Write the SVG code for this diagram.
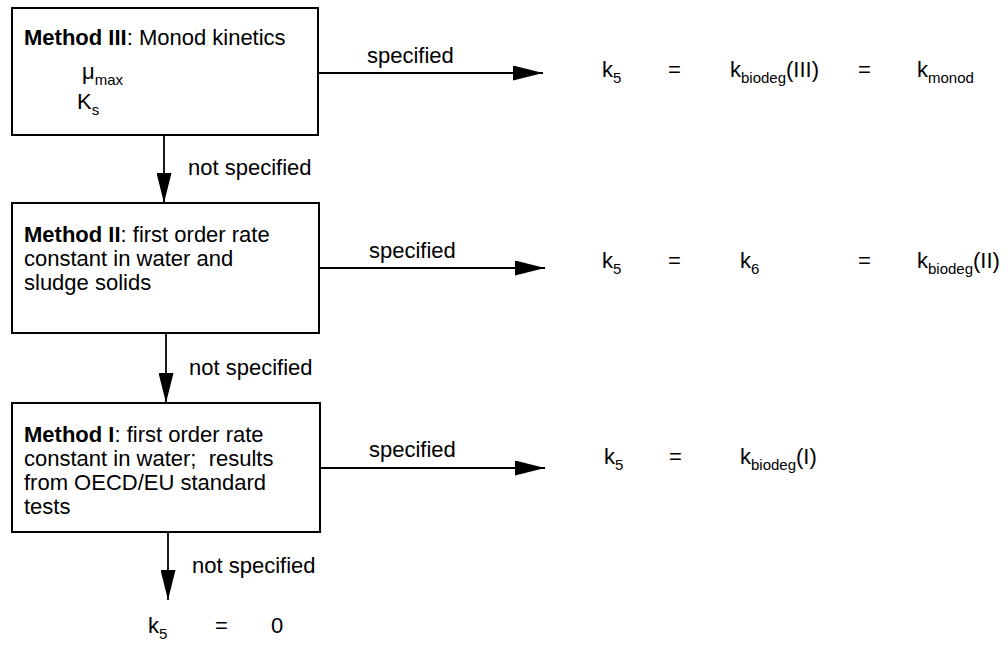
<svg xmlns="http://www.w3.org/2000/svg" width="1008" height="649" viewBox="0 0 1008 649">
  <style>
    text { font-family: "Liberation Sans", Arial, sans-serif; font-size: 22px; fill: #000; }
    .b { font-weight: bold; }
    .sub { font-size: 15px; }
    .box { fill: #fff; stroke: #000; stroke-width: 2; }
    .line { stroke: #000; stroke-width: 1.8; fill: none; }
  </style>
  <defs>
    <marker id="arrow" viewBox="0 0 30 15" refX="30" refY="7.5" markerWidth="30" markerHeight="15" markerUnits="userSpaceOnUse" orient="auto">
      <path d="M0,0 L30,7.5 L0,15 Z" fill="#000"/>
    </marker>
    <marker id="arrowDown" viewBox="0 0 30 15" refX="30" refY="7.5" markerWidth="30" markerHeight="15" markerUnits="userSpaceOnUse" orient="auto">
      <path d="M0,0 L30,7.5 L0,15 Z" fill="#000"/>
    </marker>
  </defs>

  <rect width="1008" height="649" fill="#fff"/>

  <g id="connectors">
    <line class="line" x1="318" y1="73" x2="543" y2="73" marker-end="url(#arrow)"/>
    <line class="line" x1="319" y1="268" x2="545" y2="268" marker-end="url(#arrow)"/>
    <line class="line" x1="320" y1="468" x2="545" y2="468" marker-end="url(#arrow)"/>
    <line class="line" x1="164" y1="135" x2="164" y2="203" marker-end="url(#arrowDown)"/>
    <line class="line" x1="166" y1="333" x2="166" y2="403" marker-end="url(#arrowDown)"/>
    <line class="line" x1="168" y1="532" x2="168" y2="600" marker-end="url(#arrowDown)"/>
    <text x="367" y="63">specified</text>
    <text x="369" y="258">specified</text>
    <text x="369" y="457">specified</text>
    <text x="188" y="175">not specified</text>
    <text x="189" y="375">not specified</text>
    <text x="192" y="573">not specified</text>
  </g>

  <g id="method3">
    <rect class="box" x="12" y="8" width="306" height="127"/>
    <text x="24" y="45"><tspan class="b">Method III</tspan>: Monod kinetics</text>
    <text x="82" y="79">μ<tspan class="sub" dy="6">max</tspan></text>
    <text x="77" y="109">K<tspan class="sub" dy="6">s</tspan></text>
  </g>

  <g id="method2">
    <rect class="box" x="12" y="203" width="307" height="130"/>
    <text x="24" y="242"><tspan class="b">Method II</tspan>: first order rate</text>
    <text x="24" y="266">constant in water and</text>
    <text x="24" y="290">sludge solids</text>
  </g>

  <g id="method1">
    <rect class="box" x="12" y="403" width="308" height="129"/>
    <text x="24" y="442"><tspan class="b">Method I</tspan>: first order rate</text>
    <text x="24" y="466" xml:space="preserve">constant in water;  results</text>
    <text x="24" y="490">from OECD/EU standard</text>
    <text x="24" y="514">tests</text>
  </g>

  <g id="result3">
    <text x="602" y="77">k<tspan class="sub" dy="6">5</tspan></text>
    <text x="668" y="77">=</text>
    <text x="730" y="77">k<tspan class="sub" dy="6">biodeg</tspan><tspan dy="-6">(III)</tspan></text>
    <text x="858" y="77">=</text>
    <text x="917" y="77">k<tspan class="sub" dy="6">monod</tspan></text>
  </g>

  <g id="result2">
    <text x="602" y="268">k<tspan class="sub" dy="6">5</tspan></text>
    <text x="668" y="268">=</text>
    <text x="740" y="268">k<tspan class="sub" dy="6">6</tspan></text>
    <text x="858" y="268">=</text>
    <text x="917" y="268">k<tspan class="sub" dy="6">biodeg</tspan><tspan dy="-6">(II)</tspan></text>
  </g>

  <g id="result1">
    <text x="604" y="464">k<tspan class="sub" dy="6">5</tspan></text>
    <text x="669" y="464">=</text>
    <text x="740" y="464">k<tspan class="sub" dy="6">biodeg</tspan><tspan dy="-6">(I)</tspan></text>
  </g>

  <g id="result0">
    <text x="148" y="633">k<tspan class="sub" dy="6">5</tspan></text>
    <text x="215" y="633">=</text>
    <text x="271" y="633">0</text>
  </g>
</svg>
